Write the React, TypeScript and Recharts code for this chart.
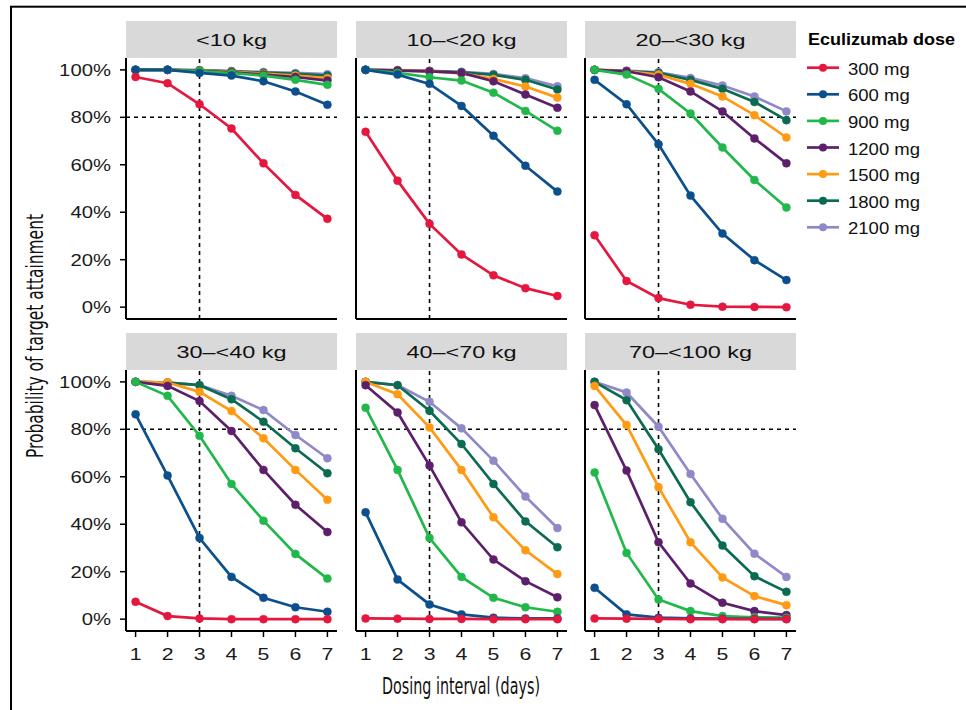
import { Line, LineChart, ReferenceLine, XAxis, YAxis } from "recharts";

const days = [1, 2, 3, 4, 5, 6, 7];
const doses = ["300 mg", "600 mg", "900 mg", "1200 mg", "1500 mg", "1800 mg", "2100 mg"];
const doseColors = ["#E5173F", "#0B4F8C", "#21B84B", "#5D1F6B", "#FF9A12", "#0B6B50", "#8F89C8"];
const yTicks = [0, 20, 40, 60, 80, 100];
const panelTitles = ["<10 kg", "10–<20 kg", "20–<30 kg", "30–<40 kg", "40–<70 kg", "70–<100 kg"];

// probability of target attainment (%), one row per dose (same order as doses), one value per day
const kgUnder10 = [
  [97, 94.4, 85.5, 75.3, 60.6, 47.3, 37.2],
  [100, 100, 98.7, 97.6, 95.2, 90.9, 85.3],
  [100, 100, 99.5, 98.6, 97.6, 95.8, 93.7],
  [100, 100, 99.6, 99, 98, 97, 95.5],
  [100, 100, 99.7, 99.2, 98.4, 97.6, 96.5],
  [100, 100, 99.8, 99.4, 98.8, 98.3, 97.6],
  [100, 100, 99.9, 99.5, 99.1, 98.7, 98.2],
];
const kg10to20 = [
  [73.9, 53.3, 35.1, 22.2, 13.4, 8.0, 4.7],
  [100, 98, 94.1, 84.8, 72.2, 59.6, 48.7],
  [100, 98.7, 96.9, 95.5, 90.4, 82.7, 74.3],
  [100, 99.7, 99.4, 98.7, 95.2, 89.6, 84],
  [100, 99.8, 99.5, 98.5, 96.2, 93, 88.3],
  [100, 99.8, 99.5, 99, 97.9, 95.8, 91.7],
  [100, 99.9, 99.6, 99.2, 98.3, 96.5, 93.1],
];
const kg20to30 = [
  [30.3, 11.0, 3.8, 1.0, 0.2, 0.1, 0],
  [95.8, 85.5, 68.6, 47.0, 31.0, 19.8, 11.4],
  [100, 98, 92, 81.6, 67.3, 53.6, 42],
  [100, 99.4, 96.9, 90.9, 82.5, 71.1, 60.6],
  [100, 99.4, 98, 94.1, 88.8, 80.9, 71.5],
  [100, 99.4, 98.7, 95.8, 92, 86.5, 78.8],
  [100, 99.7, 99, 96.6, 93.4, 88.8, 82.5],
];
const kg30to40 = [
  [7.3, 1.3, 0.3, 0, 0, 0, 0],
  [86.3, 60.5, 34.2, 17.8, 9.0, 5.0, 3.1],
  [100, 94.1, 77.3, 57.0, 41.5, 27.5, 17.1],
  [100, 98.3, 91.9, 79.3, 62.9, 48.2, 36.7],
  [100, 99.7, 95.8, 87.7, 76.2, 62.9, 50.3],
  [100, 99.7, 98.6, 92.7, 83.2, 72.0, 61.5],
  [100, 99.7, 98.6, 94.1, 88.1, 77.6, 67.8],
];
const kg40to70 = [
  [0.3, 0.2, 0.1, 0.1, 0, 0, 0],
  [45, 16.7, 6.2, 2, 0.6, 0.3, 0.3],
  [89.1, 62.9, 34.2, 17.8, 9, 5, 3.1],
  [98.6, 87.1, 64.7, 40.8, 25.1, 16, 9.2],
  [100, 94.8, 80.8, 62.9, 42.9, 29, 19],
  [100, 98.6, 87.8, 73.8, 57, 41.2, 30.3],
  [100, 98.6, 91.6, 80.4, 66.8, 51.7, 38.4],
];
const kg70to100 = [
  [0.3, 0.2, 0.1, 0, 0, 0, 0],
  [13.2, 2, 0.6, 0.3, 0.2, 0.1, 0.1],
  [61.8, 27.9, 8.3, 3.4, 1.3, 0.8, 0.6],
  [90.2, 62.6, 32.4, 15, 6.9, 3.4, 1.7],
  [98.3, 81.8, 55.6, 32.4, 17.6, 9.7, 5.9],
  [100, 92.3, 71.6, 49.3, 31, 18.1, 11.5],
  [100, 95.5, 81.1, 61.2, 42.3, 27.6, 17.8],
];
const panelValues = [kgUnder10, kg10to20, kg20to30, kg30to40, kg40to70, kg70to100];

const FONT = "'Liberation Sans', Arial, Helvetica, sans-serif";
const NARROW = "'Liberation Sans Narrow', 'DejaVu Sans Condensed', 'Liberation Sans', sans-serif";
const PANEL_W = 211;
const PANEL_H = 261;
const STRIP_H = 37;
const AXIS_W = 110;
const PAD = 10;
const AXIS_H = 60;
const panelLefts = [126, 356, 585];
const panelTops = [58, 370];

function buildRows(values: number[][]) {
  return days.map((day, i) => {
    const row: Record<string, number> = { day };
    doses.forEach((_, j) => {
      row[`d${j}`] = values[j][i];
    });
    return row;
  });
}

function YTick({ x, y, payload }: any) {
  return (
    <text
      transform={`translate(${x},${y}) scale(1.23,1)`}
      textAnchor="end"
      dy="0.36em"
      fontSize={16.5}
      fontFamily={FONT}
      fill="#1a1a1a"
    >
      {payload.value}%
    </text>
  );
}

function XTick({ x, y, payload }: any) {
  return (
    <text
      transform={`translate(${x},${y + 21}) scale(1.25,1)`}
      textAnchor="middle"
      fontSize={17}
      fontFamily={FONT}
      fill="#1a1a1a"
    >
      {payload.value}
    </text>
  );
}

function Panel({ index }: { index: number }) {
  const col = index % 3;
  const row = Math.floor(index / 3);
  const showY = col === 0;
  const showX = row === 1;
  const data = buildRows(panelValues[index]);
  // ggplot drew the biggest dose first, so 300 mg ends up on top
  const order = doses.map((_, j) => j).reverse();

  return (
    <div
      style={{
        position: "absolute",
        left: panelLefts[col] - AXIS_W,
        top: panelTops[row] - PAD,
      }}
    >
      <LineChart
        width={AXIS_W + PANEL_W + PAD}
        height={PAD + PANEL_H + AXIS_H}
        data={data}
        margin={{ top: PAD, right: PAD, left: 0, bottom: 0 }}
      >
        <XAxis
          type="number"
          dataKey="day"
          domain={[0.7, 7.3]}
          ticks={days}
          height={AXIS_H}
          axisLine={{ stroke: "#000", strokeWidth: 2 }}
          tickLine={showX ? { stroke: "#000", strokeWidth: 1.5 } : false}
          tickSize={6}
          tick={showX ? XTick : false}
        />
        <YAxis
          type="number"
          domain={[-5, 105]}
          ticks={yTicks}
          width={AXIS_W}
          axisLine={{ stroke: "#000", strokeWidth: 2 }}
          tickLine={showY ? { stroke: "#000", strokeWidth: 1.5 } : false}
          tickSize={6}
          tickMargin={9}
          tick={showY ? YTick : false}
        />
        <ReferenceLine y={80} stroke="#000" strokeWidth={1.6} strokeDasharray="4 4" />
        <ReferenceLine x={3} stroke="#000" strokeWidth={1.6} strokeDasharray="4 4" />
        {order.map((j) => (
          <Line
            key={doses[j]}
            type="linear"
            dataKey={`d${j}`}
            name={doses[j]}
            stroke={doseColors[j]}
            strokeWidth={2.7}
            dot={{ r: 4, fill: doseColors[j], stroke: doseColors[j], strokeWidth: 0.5 }}
            isAnimationActive={false}
          />
        ))}
      </LineChart>
    </div>
  );
}

function Overlay() {
  return (
    <svg
      width={966}
      height={710}
      style={{ position: "absolute", left: 0, top: 0, overflow: "hidden" }}
    >
      <rect x={11} y={6.7} width={2000} height={2000} fill="none" stroke="#000" strokeWidth={2} />
      {panelTitles.map((title, i) => {
        const col = i % 3;
        const row = Math.floor(i / 3);
        const left = panelLefts[col];
        const top = panelTops[row] - STRIP_H;
        return (
          <g key={title}>
            <rect x={left} y={top} width={PANEL_W} height={STRIP_H} fill="#D9D9D9" />
            <text
              transform={`translate(${left + PANEL_W / 2},${top + 25}) scale(1.38,1)`}
              textAnchor="middle"
              fontSize={17}
              fontFamily={FONT}
              fill="#111"
            >
              {title}
            </text>
          </g>
        );
      })}
      <text
        transform="translate(43,336) rotate(-90)"
        textAnchor="middle"
        fontSize={22.5}
        fontFamily={NARROW}
        textLength={244}
        lengthAdjust="spacingAndGlyphs"
        fill="#111"
      >
        Probability of target attainment
      </text>
      <text
        x={461}
        y={694}
        textAnchor="middle"
        fontSize={23}
        fontFamily={NARROW}
        textLength={158}
        lengthAdjust="spacingAndGlyphs"
        fill="#111"
      >
        Dosing interval (days)
      </text>
      <text
        transform="translate(808,45) scale(1.06,1)"
        fontSize={17}
        fontWeight="bold"
        fontFamily={FONT}
        fill="#000"
      >
        Eculizumab dose
      </text>
      {doses.map((dose, j) => {
        const y = 67.7 + j * 26.6;
        return (
          <g key={dose}>
            <line x1={807} x2={839} y1={y} y2={y} stroke={doseColors[j]} strokeWidth={2.7} />
            <circle cx={823} cy={y} r={4} fill={doseColors[j]} />
            <text
              transform={`translate(848,${y + 7}) scale(1.09,1)`}
              fontSize={17}
              fontFamily={FONT}
              fill="#111"
            >
              {dose}
            </text>
          </g>
        );
      })}
    </svg>
  );
}

export default function App() {
  return (
    <div
      style={{
        position: "absolute",
        left: 0,
        top: 0,
        width: 966,
        height: 710,
        background: "#fff",
        overflow: "hidden",
      }}
    >
      <Overlay />
      {panelTitles.map((title, i) => (
        <Panel key={title} index={i} />
      ))}
    </div>
  );
}
